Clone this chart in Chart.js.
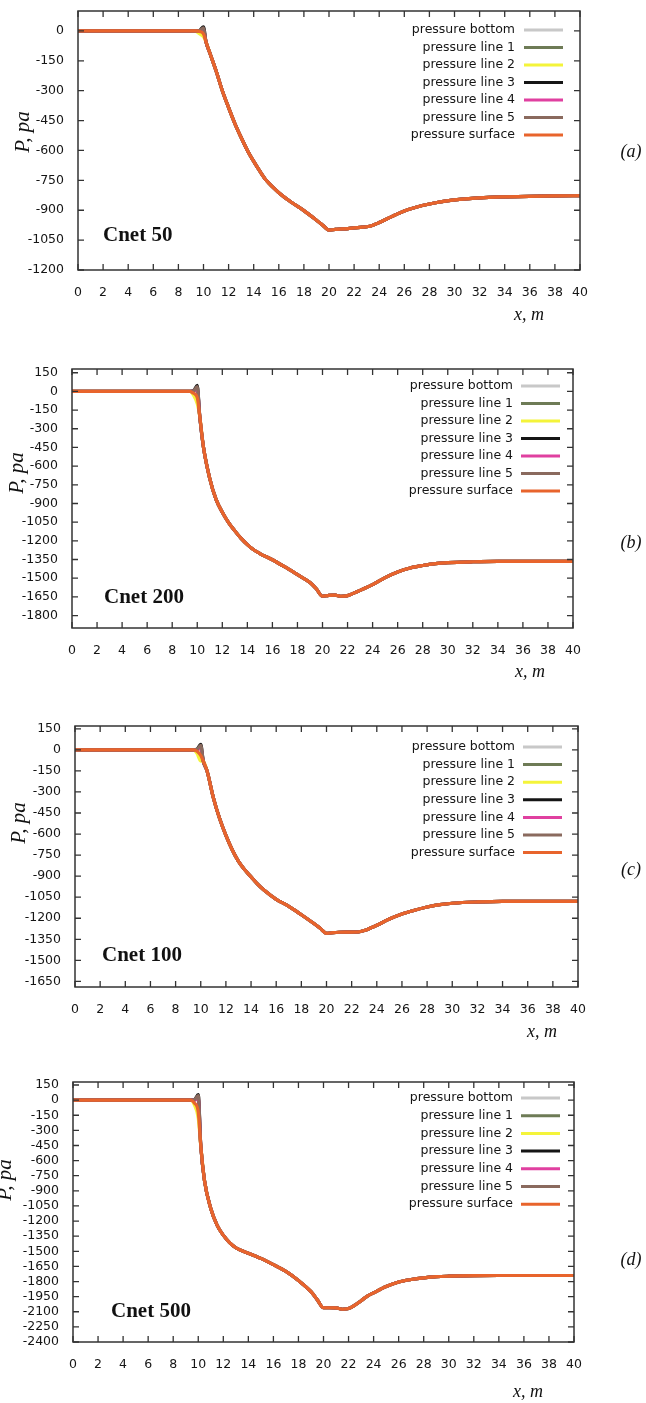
<!DOCTYPE html>
<html>
<head>
<meta charset="utf-8">
<title>Pressure along the channel</title>
<script src="https://cdn.jsdelivr.net/npm/chart.js@4.4.1/dist/chart.umd.min.js"></script>
<style>
  body { margin: 0; background: #fff; }
  #wrap { position: relative; width: 646px; height: 1403px; }
  #wrap canvas { position: absolute; left: 0; }
</style>
</head>
<body>
<div id="wrap">
  <canvas id="chart-a" width="646" height="340" style="top:0px"></canvas>
  <canvas id="chart-b" width="646" height="360" style="top:340px"></canvas>
  <canvas id="chart-c" width="646" height="340" style="top:700px"></canvas>
  <canvas id="chart-d" width="646" height="363" style="top:1040px"></canvas>
</div>
<script>
// --- DATOS ---
// sample positions along the channel, m
const xs = [0, 2, 4, 6, 8, 9, 9.4, 9.7, 10, 10.2, 10.5, 11, 11.5, 12, 12.5, 13, 13.5, 14, 14.5, 15,
            16, 17, 18, 19, 19.5, 20, 20.5, 21, 21.5, 22, 22.5, 23, 23.5, 24, 25, 26, 27, 28, 29, 30,
            32, 34, 36, 38, 40];
const xTicks = [0, 2, 4, 6, 8, 10, 12, 14, 16, 18, 20, 22, 24, 26, 28, 30, 32, 34, 36, 38, 40];

const seriesNames = ['pressure bottom', 'pressure line 1', 'pressure line 2', 'pressure line 3',
                     'pressure line 4', 'pressure line 5', 'pressure surface'];
const seriesColors = ['#c8c8c8', '#6e7b56', '#f4f43a', '#151515', '#e040a0', '#8a6a5e', '#e8642c'];

// pressure on the surface, Pa (all lines coincide except near x = 10)
const surfCnet50 = [0, 0, 0, 0, 0, 0, 0, -3, -15, -55, -110, -200, -300, -385, -465, -535, -600, -655, -705, -750,
                    -812, -860, -902, -950, -975, -1000, -996, -994, -992, -989, -986, -983, -975, -962,
                    -932, -904, -884, -869, -857, -848, -838, -833, -830, -828, -827];
const surfCnet200 = [0, 0, 0, 0, 0, 0, 0, -15, -50, -200, -450, -700, -867, -970, -1053, -1120, -1180, -1230, -1272, -1302,
                     -1352, -1410, -1472, -1535, -1585, -1645, -1638, -1636, -1645, -1640, -1620, -1598, -1575, -1552,
                     -1495, -1450, -1418, -1398, -1383, -1375, -1368, -1365, -1365, -1365, -1365];
const surfCnet100 = [0, 0, 0, 0, 0, 0, 0, -10, -40, -80, -150, -340, -490, -610, -712, -795, -855, -905, -955, -997,
                     -1065, -1115, -1175, -1238, -1272, -1308, -1303, -1300, -1299, -1299, -1298, -1288, -1270, -1250,
                     -1206, -1170, -1143, -1120, -1103, -1093, -1084, -1080, -1080, -1080, -1080];
const surfCnet500 = [0, 0, 0, 0, 0, 0, 0, -30, -120, -450, -800, -1075, -1240, -1340, -1415, -1465, -1495, -1520, -1545, -1570,
                     -1632, -1700, -1790, -1900, -1980, -2060, -2060, -2062, -2075, -2068, -2035, -1990, -1945, -1912,
                     -1850, -1805, -1780, -1763, -1752, -1747, -1742, -1740, -1740, -1740, -1740];

// each line at x = 9.4, 9.7, 10 (bottom, line 1..5, surface)
const stepCnet50 = [[0, -3, -15], [0, 0, 5], [-3, -15, -30], [0, 3, 21], [0, 0, 8], [0, 2, 16], [0, -3, -15]];
const stepCnet200 = [[0, -15, -50], [0, 0, 15], [0, -30, -100], [0, 5, 48], [0, 0, 20], [0, 3, 38], [0, -15, -50]];
const stepCnet100 = [[0, -10, -40], [0, 0, 12], [0, -25, -80], [0, 4, 40], [0, 0, 16], [0, 3, 32], [0, -10, -40]];
const stepCnet500 = [[0, -30, -120], [0, 0, 15], [0, -50, -180], [0, 5, 55], [0, 0, 22], [0, 4, 45], [0, -30, -120]];
const stepStart = 6; // index of x = 9.4 in xs

const yTicksCnet50 = [0, -150, -300, -450, -600, -750, -900, -1050, -1200];
const yTicksCnet200 = [150, 0, -150, -300, -450, -600, -750, -900, -1050, -1200, -1350, -1500, -1650, -1800];
const yTicksCnet100 = [150, 0, -150, -300, -450, -600, -750, -900, -1050, -1200, -1350, -1500, -1650];
const yTicksCnet500 = [150, 0, -150, -300, -450, -600, -750, -900, -1050, -1200, -1350, -1500, -1650, -1800,
                       -1950, -2100, -2250, -2400];

// --- PANELES ---
const panels = [
    { id: 'chart-a', top: 0, height: 340, plot: { left: 78, top: 11, right: 580, bottom: 270 },
      yMin: -1200, yMax: 100, yTicks: yTicksCnet50, surf: surfCnet50, step: stepCnet50,
      name: 'Cnet 50', tag: '(a)', xTitle: [529, 315], tagAt: [631, 152], yTitle: [29, 132], nameAt: [103, 236],
      legend: { right: 515, x0: 524, x1: 563, y0: 30, dy: 17.5 } },
    { id: 'chart-b', top: 340, height: 360, plot: { left: 72, top: 369, right: 573, bottom: 628 },
      yMin: -1900, yMax: 180, yTicks: yTicksCnet200, surf: surfCnet200, step: stepCnet200,
      name: 'Cnet 200', tag: '(b)', xTitle: [530, 672], tagAt: [631, 543], yTitle: [23, 473], nameAt: [104, 598],
      legend: { right: 513, x0: 521, x1: 560, y0: 386, dy: 17.5 } },
    { id: 'chart-c', top: 700, height: 340, plot: { left: 75, top: 726, right: 578, bottom: 987 },
      yMin: -1690, yMax: 170, yTicks: yTicksCnet100, surf: surfCnet100, step: stepCnet100,
      name: 'Cnet 100', tag: '(c)', xTitle: [542, 1032], tagAt: [631, 870], yTitle: [25, 823], nameAt: [102, 956],
      legend: { right: 515, x0: 523, x1: 562, y0: 747, dy: 17.6 } },
    { id: 'chart-d', top: 1040, height: 363, plot: { left: 73, top: 1082, right: 574, bottom: 1342 },
      yMin: -2400, yMax: 180, yTicks: yTicksCnet500, surf: surfCnet500, step: stepCnet500,
      name: 'Cnet 500', tag: '(d)', xTitle: [528, 1392], tagAt: [631, 1260], yTitle: [11, 1180], nameAt: [111, 1312],
      legend: { right: 513, x0: 521, x1: 560, y0: 1098, dy: 17.7 } }
];

const SANS = '"DejaVu Sans", Tahoma, sans-serif';
const SERIF = '"Liberation Serif", "Times New Roman", serif';
const INK = '#151515';

function buildDatasets(p) {
    return seriesNames.map((label, i) => ({
        label: label,
        data: xs.map((x, k) => {
            const j = k - stepStart;
            const y = (j >= 0 && j < p.step[i].length) ? p.step[i][j] : p.surf[k];
            return { x: x, y: y };
        }),
        borderColor: seriesColors[i],
        backgroundColor: seriesColors[i],
        borderWidth: 3.2,
        pointRadius: 0,
        cubicInterpolationMode: 'monotone',
        order: seriesNames.length - 1 - i   // surface drawn last
    }));
}

// border box, inward tics, legend and the captions
function framePlugin(p) {
    return {
        id: 'frame',
        afterDraw(chart) {
            const { ctx, chartArea: a } = chart;
            const xs_ = chart.scales.x, ys_ = chart.scales.y;
            const off = p.top;
            ctx.save();

            ctx.strokeStyle = '#333';
            ctx.lineWidth = 1.5;
            ctx.strokeRect(a.left, a.top, a.right - a.left, a.bottom - a.top);

            ctx.lineWidth = 1.3;
            ctx.beginPath();
            xTicks.forEach(v => {
                const px = xs_.getPixelForValue(v);
                ctx.moveTo(px, a.bottom); ctx.lineTo(px, a.bottom - 6);
                ctx.moveTo(px, a.top); ctx.lineTo(px, a.top + 6);
            });
            p.yTicks.forEach(v => {
                const py = ys_.getPixelForValue(v);
                ctx.moveTo(a.left, py); ctx.lineTo(a.left + 6, py);
                ctx.moveTo(a.right, py); ctx.lineTo(a.right - 6, py);
            });
            ctx.stroke();

            // legend: label then a line sample on the right
            ctx.font = '12.5px ' + SANS;
            ctx.textAlign = 'right';
            ctx.textBaseline = 'middle';
            chart.data.datasets.forEach((ds, i) => {
                const y = p.legend.y0 + i * p.legend.dy - off;
                ctx.fillStyle = INK;
                ctx.fillText(ds.label, p.legend.right, y);
                ctx.strokeStyle = ds.borderColor;
                ctx.lineWidth = 3;
                ctx.beginPath();
                ctx.moveTo(p.legend.x0, y);
                ctx.lineTo(p.legend.x1, y);
                ctx.stroke();
            });

            ctx.fillStyle = '#111';
            ctx.font = 'bold 21px ' + SERIF;
            ctx.textAlign = 'left';
            ctx.fillText(p.name, p.nameAt[0], p.nameAt[1] - off);

            ctx.font = 'italic 18px ' + SERIF;
            ctx.textAlign = 'center';
            ctx.fillText('x, m', p.xTitle[0], p.xTitle[1] - off);
            ctx.fillText(p.tag, p.tagAt[0], p.tagAt[1] - off);

            ctx.save();
            ctx.translate(p.yTitle[0], p.yTitle[1] - off);
            ctx.rotate(-Math.PI / 2);
            ctx.font = 'italic 21px ' + SERIF;
            ctx.textBaseline = 'alphabetic';
            ctx.fillText('P, pa', 0, 0);
            ctx.restore();

            ctx.restore();
        }
    };
}

function drawPanel(p) {
    const canvas = document.getElementById(p.id);
    return new Chart(canvas, {
        type: 'line',
        data: { datasets: buildDatasets(p) },
        options: {
            responsive: false,
            animation: false,
            layout: { padding: { top: p.plot.top - p.top, right: 646 - p.plot.right, left: 0, bottom: 0 } },
            plugins: { legend: { display: false }, tooltip: { enabled: false } },
            scales: {
                x: {
                    type: 'linear', min: 0, max: 40,
                    grid: { display: false }, border: { display: false },
                    ticks: { color: INK, font: { family: SANS, size: 12.5 }, padding: 7,
                             maxRotation: 0, autoSkip: false, callback: v => String(v) },
                    afterBuildTicks: s => { s.ticks = xTicks.map(v => ({ value: v })); },
                    afterFit: s => {
                        s.height = p.top + p.height - p.plot.bottom;
                        s.paddingLeft = 0; s.paddingRight = 0;
                    }
                },
                y: {
                    type: 'linear', min: p.yMin, max: p.yMax,
                    grid: { display: false }, border: { display: false },
                    ticks: { color: INK, font: { family: SANS, size: 12.5 }, padding: 6,
                             autoSkip: false, callback: v => String(v) },
                    afterBuildTicks: s => { s.ticks = p.yTicks.map(v => ({ value: v })); },
                    afterFit: s => {
                        s.width = p.plot.left;
                        s.paddingTop = 0; s.paddingBottom = 0;
                    }
                }
            }
        },
        plugins: [framePlugin(p)]
    });
}

panels.forEach(drawPanel);
</script>
</body>
</html>
